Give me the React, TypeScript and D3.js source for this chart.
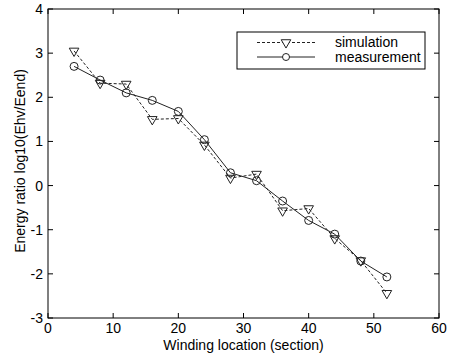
import React from "react";
import * as d3 from "d3";

const sections = [4, 8, 12, 16, 20, 24, 28, 32, 36, 40, 44, 48, 52];
const simulation = [3.05, 2.32, 2.3, 1.5, 1.52, 0.92, 0.17, 0.26, -0.57, -0.52, -1.2, -1.7, -2.44];
const measurement = [2.7, 2.39, 2.1, 1.93, 1.68, 1.04, 0.29, 0.11, -0.35, -0.79, -1.1, -1.71, -2.07];
const xTicks = [0, 10, 20, 30, 40, 50, 60];
const yTicks = [-3, -2, -1, 0, 1, 2, 3, 4];
const legendLabels = ["simulation", "measurement"];

const W = 449, H = 358;
const L = 48, R = 439, T = 9, B = 318;

export default function App() {
  const x = d3.scaleLinear().domain([0, 60]).range([L, R]);
  const y = d3.scaleLinear().domain([-3, 4]).range([B, T]);
  const line = d3.line<number>().x((_, i) => x(sections[i])).y((v) => y(v));
  const tri = d3.symbol().type(d3.symbolTriangle).size(40)();
  const font = "Liberation Sans, Arial, sans-serif";
  const tl = 5;
  const fs = 14;
  return (
    <div style={{ position: "fixed", left: 0, top: 0 }}>
      <svg width={W} height={H} style={{ display: "block", background: "#fff" }} fontFamily={font}>
        <rect x={0} y={0} width={W} height={H} fill="#fff" />
        {xTicks.map((t) => (
          <g key={"x" + t}>
            <line x1={x(t)} x2={x(t)} y1={B} y2={B - tl} stroke="#000" />
            <line x1={x(t)} x2={x(t)} y1={T} y2={T + tl} stroke="#000" />
            <text x={x(t)} y={B + 15} fontSize={fs} textAnchor="middle" fill="#000">{t}</text>
          </g>
        ))}
        {yTicks.map((t) => (
          <g key={"y" + t}>
            <line x1={L} x2={L + tl} y1={y(t)} y2={y(t)} stroke="#000" />
            <line x1={R} x2={R - tl} y1={y(t)} y2={y(t)} stroke="#000" />
            <text x={L - 5} y={y(t) + 5} fontSize={fs} textAnchor="end" fill="#000">{t}</text>
          </g>
        ))}
        <rect x={L} y={T} width={R - L} height={B - T} fill="none" stroke="#000" />
        <path d={line(simulation) || ""} fill="none" stroke="#222" strokeDasharray="3,2" />
        <path d={line(measurement) || ""} fill="none" stroke="#222" />
        {simulation.map((v, i) => (
          <path key={"s" + i} d={tri || ""} transform={`translate(${x(sections[i])},${y(v)}) rotate(180)`} fill="none" stroke="#222" />
        ))}
        {measurement.map((v, i) => (
          <circle key={"m" + i} cx={x(sections[i])} cy={y(v)} r={4} fill="none" stroke="#222" />
        ))}
        <rect x={237} y={32} width={188} height={37} fill="#fff" stroke="#000" />
        <line x1={257} x2={315} y1={42.5} y2={42.5} stroke="#222" strokeDasharray="3,2" />
        <path d={tri || ""} transform="translate(286,42.5) rotate(180)" fill="#fff" stroke="#222" />
        <line x1={257} x2={315} y1={57} y2={57} stroke="#222" />
        <circle cx={286} cy={57} r={3.5} fill="#fff" stroke="#222" />
        <text x={335} y={47} fontSize={fs} fill="#000">{legendLabels[0]}</text>
        <text x={335} y={62} fontSize={fs} fill="#000">{legendLabels[1]}</text>
        <text x={(L + R) / 2} y={350} fontSize={fs} textAnchor="middle" fill="#000">Winding location (section)</text>
        <text transform={`translate(25,${161}) rotate(-90)`} fontSize={fs} textAnchor="middle" fill="#000">Energy ratio log10(Ehv/Eend)</text>
      </svg>
    </div>
  );
}
